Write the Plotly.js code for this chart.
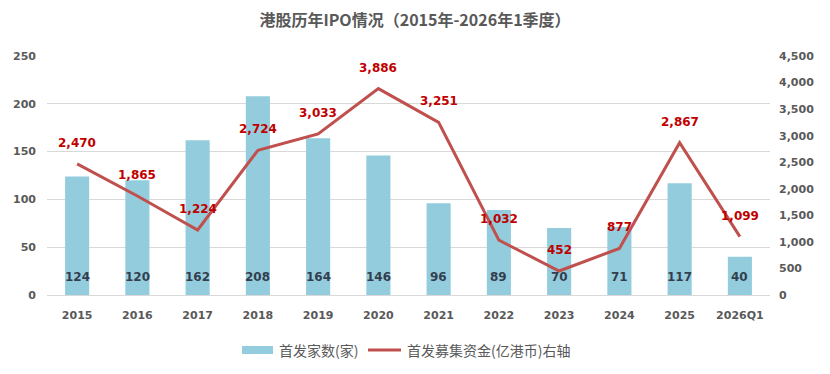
<!DOCTYPE html>
<html><head><meta charset="utf-8">
<script src="https://cdn.plot.ly/plotly-3.0.1.min.js"></script>
<style>body{margin:0;background:#fff}#c{width:830px;height:374px}</style>
</head><body><div id="c"></div>
<script>
const categories = ['2015','2016','2017','2018','2019','2020','2021','2022','2023','2024','2025','2026Q1'];
const ipoCount = [124,120,162,208,164,146,96,89,70,71,117,40];
const ipoFunds = [2470,1865,1224,2724,3033,3886,3251,1032,452,877,2867,1099];
const leftTicks = [0,50,100,150,200,250];
const rightTicks = [0,500,1000,1500,2000,2500,3000,3500,4000,4500];
const seriesNames = ['首发家数(家)','首发募集资金(亿港币)右轴'];

const fmt = v => v.toLocaleString('en-US');
const tickFont = {family:'DejaVu Sans, Verdana, sans-serif', size:11, color:'#595959', weight:'bold'};
const idx = categories.map((c,i)=>i);

const bars = {
  type:'bar', x:idx, y:ipoCount, name:seriesNames[0],
  marker:{color:'#93CDDD'}, width:0.4, hoverinfo:'skip'
};
const line = {
  type:'scatter', mode:'lines', x:idx, y:ipoFunds, yaxis:'y2', name:seriesNames[1],
  line:{color:'#C0504D', width:3}, hoverinfo:'skip'
};
const annotations = idx.map(i=>({
  x:i, y:ipoFunds[i], yref:'y2', xref:'x', text:fmt(ipoFunds[i]),
  showarrow:false, yshift:21,
  font:{family:'DejaVu Sans, Verdana, sans-serif', size:12, color:'#C00000', weight:'bold'}
})).concat(idx.map(i=>({
  x:i, y:0, yref:'y', xref:'x', text:String(ipoCount[i]),
  showarrow:false, yanchor:'middle', yshift:18,
  font:{family:'DejaVu Sans, Verdana, sans-serif', size:12, color:'#333F4F', weight:'bold'}
})));
const legFont = {family:'Noto Sans CJK SC, sans-serif', size:14, color:'#595959'};
annotations.push(
  {xref:'paper', yref:'paper', x:(277-47)/723, y:-(350-295)/239, xanchor:'left', yanchor:'middle',
   text:seriesNames[0], showarrow:false, font:legFont},
  {xref:'paper', yref:'paper', x:(405-47)/723, y:-(350-295)/239, xanchor:'left', yanchor:'middle',
   text:seriesNames[1], showarrow:false, font:legFont}
);
const shapes = [
  {type:'rect', xref:'paper', yref:'paper', x0:(242-47)/723, x1:(273-47)/723,
   y0:-(354-295)/239, y1:-(346-295)/239, fillcolor:'#93CDDD', line:{width:0}},
  {type:'line', xref:'paper', yref:'paper', x0:(368-47)/723, x1:(401-47)/723,
   y0:-(350-295)/239, y1:-(350-295)/239, line:{color:'#C0504D', width:3}}
];

const layout = {
  width:830, height:374, paper_bgcolor:'#fff', plot_bgcolor:'#fff',
  margin:{l:47, r:60, t:56, b:79},
  title:{text:'港股历年IPO情况（2015年-2026年1季度）', x:0.5, xanchor:'center', y:0.96,
    font:{family:'Noto Sans CJK SC, sans-serif', size:16, color:'#595959', weight:'bold'}},
  xaxis:{range:[-0.5,11.5], tickvals:idx, ticktext:categories, tickfont:tickFont,
    showgrid:false, showline:false, ticks:'', zeroline:false, ticklabelstandoff:12},
  yaxis:{range:[0,250], tickvals:leftTicks, tickfont:tickFont, gridcolor:'#D9D9D9', gridwidth:1,
    zeroline:true, zerolinecolor:'#D9D9D9', showline:false, ticks:'', ticklabelstandoff:10},
  yaxis2:{range:[0,4500], tickvals:rightTicks, ticktext:rightTicks.map(fmt), overlaying:'y', side:'right',
    tickfont:tickFont, showgrid:false, zeroline:false, showline:false, ticks:'', ticklabelstandoff:8},
  showlegend:false,
  annotations:annotations, shapes:shapes
};
Plotly.newPlot('c',[bars,line],layout,{displayModeBar:false, staticPlot:true});
</script></body></html>
